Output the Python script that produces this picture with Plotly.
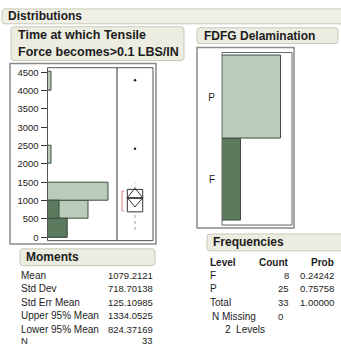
import plotly.graph_objects as go

W, H = 341, 347

# ---------------- data ----------------
bin_centers = [250, 750, 1250, 2250, 4250]
bin_counts = [5, 10, 15, 1, 1]
sel_centers = [250, 750]
sel_counts = [5, 3]
y_ticks = [0, 500, 1000, 1500, 2000, 2500, 3000, 3500, 4000, 4500]

outliers = [2412, 4283]
q1, median, q3 = 692, 1060, 1305
whisker_lo, whisker_hi = 200, 1490
mean, ci_lo, ci_hi = 1079.2121, 824.37169, 1334.0525
short_lo, short_hi = 720, 1260

levels = ["F", "P"]
level_counts = [8, 25]
level_probs = ["0.24242", "0.75758"]

moment_names = ["Mean", "Std Dev", "Std Err Mean", "Upper 95% Mean", "Lower 95% Mean", "N"]
moment_values = ["1079.2121", "718.70138", "125.10985", "1334.0525", "824.37169", "33"]

LIGHT = "#b9cbb9"
DARK = "#5c7a5e"
EDGE = "#3e4e40"
FONT = "Liberation Sans, Arial, sans-serif"
TXT = "#1c1c1c"


def px(x):
    return x / W


def py(y):
    return 1 - y / H


fig = go.Figure()

# histogram (total + selected)
fig.add_trace(go.Bar(y=bin_centers, x=bin_counts, orientation="h", width=500,
                     marker=dict(color=LIGHT, line=dict(color=EDGE, width=1)),
                     xaxis="x", yaxis="y", showlegend=False, hoverinfo="skip"))
fig.add_trace(go.Bar(y=sel_centers, x=sel_counts, orientation="h", width=500,
                     marker=dict(color=DARK, line=dict(color=EDGE, width=1)),
                     xaxis="x", yaxis="y", showlegend=False, hoverinfo="skip"))

# outlier box plot (drawn from the summary values)
c, hw = 0.5, 0.214
fig.add_trace(go.Scatter(x=[c, c], y=[q3, whisker_hi], mode="lines",
                         line=dict(color="#a0a0a0", width=1, dash="dot"),
                         xaxis="x2", yaxis="y", showlegend=False, hoverinfo="skip"))
fig.add_trace(go.Scatter(x=[c, c], y=[whisker_lo, q1], mode="lines",
                         line=dict(color="#a0a0a0", width=1, dash="dot"),
                         xaxis="x2", yaxis="y", showlegend=False, hoverinfo="skip"))
fig.add_trace(go.Scatter(x=[c - hw, c + hw, c + hw, c - hw, c - hw], y=[q1, q1, q3, q3, q1],
                         mode="lines", line=dict(color="#333333", width=1),
                         xaxis="x2", yaxis="y", showlegend=False, hoverinfo="skip"))
fig.add_trace(go.Scatter(x=[c - hw, c + hw], y=[median, median], mode="lines",
                         line=dict(color="#333333", width=1),
                         xaxis="x2", yaxis="y", showlegend=False, hoverinfo="skip"))
fig.add_trace(go.Scatter(x=[c, c + hw, c, c - hw, c], y=[ci_hi, mean, ci_lo, mean, ci_hi],
                         mode="lines", line=dict(color="#333333", width=1),
                         xaxis="x2", yaxis="y", showlegend=False, hoverinfo="skip"))
fig.add_trace(go.Scatter(x=[c - hw, c + hw], y=[mean, mean], mode="lines",
                         line=dict(color="#333333", width=1),
                         xaxis="x2", yaxis="y", showlegend=False, hoverinfo="skip"))
fig.add_trace(go.Scatter(x=[0.2, 0.14, 0.14, 0.2], y=[short_hi, short_hi, short_lo, short_lo],
                         mode="lines", line=dict(color="#e07a80", width=1),
                         xaxis="x2", yaxis="y", showlegend=False, hoverinfo="skip"))
fig.add_trace(go.Scatter(x=[c] * len(outliers), y=outliers, mode="markers",
                         marker=dict(color="#222222", size=2.5),
                         xaxis="x2", yaxis="y", showlegend=False, hoverinfo="skip"))

# FDFG Delamination bar chart
fig.add_trace(go.Bar(y=[0, 1], x=level_counts, orientation="h", width=1,
                     marker=dict(color=[DARK, LIGHT], line=dict(color=EDGE, width=1)),
                     xaxis="x3", yaxis="y3", showlegend=False, hoverinfo="skip"))

fig.update_layout(
    width=W, height=H, margin=dict(l=0, r=0, t=0, b=0),
    paper_bgcolor="white", plot_bgcolor="rgba(0,0,0,0)",
    barmode="overlay", bargap=0,
    font=dict(family=FONT, color=TXT, size=10),
    xaxis=dict(domain=[px(47.5), px(117)], range=[0, 17.1], visible=False, anchor="y"),
    yaxis=dict(domain=[py(241.7), py(67.3)], range=[-92, 4622], anchor="x",
               tickvals=y_ticks, ticks="outside", ticklen=6, tickcolor="#333",
               showgrid=False, zeroline=False, showline=False,
               tickfont=dict(size=9.5, color=TXT)),
    xaxis2=dict(domain=[px(117), px(153)], range=[0, 1], visible=False, anchor="y"),
    xaxis3=dict(domain=[px(222), px(292)], range=[0, 29.5], visible=False, anchor="y3"),
    yaxis3=dict(domain=[py(226), py(52)], range=[-0.554, 1.542], anchor="x3",
                tickvals=[0, 1], ticktext=levels, ticks="", showgrid=False,
                zeroline=False, showline=False, ticklabelstandoff=6,
                tickfont=dict(size=10, color=TXT)),
)


def rrect(x0, y0, x1, y1, r=3, fill="#ececE1", line="#c8c8b8"):
    X0, X1 = px(x0), px(x1)
    Yb, Yt = py(y1), py(y0)
    rx, ry = r / W, r / H
    p = (f"M {X0+rx},{Yb} L {X1-rx},{Yb} Q {X1},{Yb} {X1},{Yb+ry} "
         f"L {X1},{Yt-ry} Q {X1},{Yt} {X1-rx},{Yt} L {X0+rx},{Yt} "
         f"Q {X0},{Yt} {X0},{Yt-ry} L {X0},{Yb+ry} Q {X0},{Yb} {X0+rx},{Yb} Z")
    return dict(type="path", xref="paper", yref="paper", path=p,
                fillcolor=fill, line=dict(color=line, width=1), layer="below")


def rect(x0, y0, x1, y1, color, width=1):
    return dict(type="rect", xref="paper", yref="paper",
                x0=px(x0), x1=px(x1), y0=py(y1), y1=py(y0),
                line=dict(color=color, width=width), fillcolor="rgba(0,0,0,0)")


shapes = [
    rrect(2, 8, 345, 23, fill="#efefe6"),
    rrect(11, 26, 184, 60),
    rrect(197, 27, 338, 43),
    rrect(20, 250, 155, 267),
    rrect(207, 235, 345, 252),
    rect(10, 63, 156, 245, "#8a8a8a", 1.5),
    rect(47.5, 67.3, 153, 241.7, "#555555", 1),
    dict(type="line", xref="paper", yref="paper", x0=px(117), x1=px(117),
         y0=py(241.7), y1=py(67.3), line=dict(color="#333333", width=1)),
    rect(197, 47, 294, 229, "#8a8a8a", 1.5),
    rect(222, 52, 292, 226, "#666666", 1),
]
fig.update_layout(shapes=shapes)

ann = []


def text(x, y, s, anchor="left", size=10, bold=False):
    ann.append(dict(x=px(x), y=py(y), xref="paper", yref="paper", text=f"<b>{s}</b>" if bold else s,
                    showarrow=False, xanchor=anchor, yanchor="middle",
                    font=dict(size=size, family=FONT, color=TXT)))


text(6, 15.5, "Distributions", size=12, bold=True)
text(16, 34.5, "Time at which Tensile", size=12.5, bold=True)
text(16, 51.5, "Force becomes&gt;0.1 LBS/IN", size=12.5, bold=True)
text(202, 35, "FDFG Delamination", size=12, bold=True)
text(24, 258.5, "Moments", size=12, bold=True)
text(211, 243.5, "Frequencies", size=12, bold=True)

row_y = [277, 290.5, 304, 317.5, 331, 342.5]
for name, val, yy in zip(moment_names, moment_values, row_y):
    text(19, yy, name, size=10 if name != "N" else 9.5)
    text(155, yy, val, anchor="right", size=9.5)

text(208, 263.5, "Level", bold=True)
text(291, 263.5, "Count", anchor="right", bold=True)
text(336, 263.5, "Prob", anchor="right", bold=True)
freq_y = [277, 290.5]
for lv, cnt, pr, yy in zip(levels, level_counts, level_probs, freq_y):
    text(208, yy, lv)
    text(291, yy, str(cnt), anchor="right", size=9.5)
    text(336, yy, pr, anchor="right", size=9.5)
text(208, 304, "Total")
text(291, 304, str(sum(level_counts)), anchor="right", size=9.5)
text(336, 304, "1.00000", anchor="right", size=9.5)
text(210, 318, "N Missing")
text(285, 318, "0", anchor="right", size=9.5)
text(223, 331, "2  Levels")

fig.update_layout(annotations=ann)
fig.write_html("out.html")
